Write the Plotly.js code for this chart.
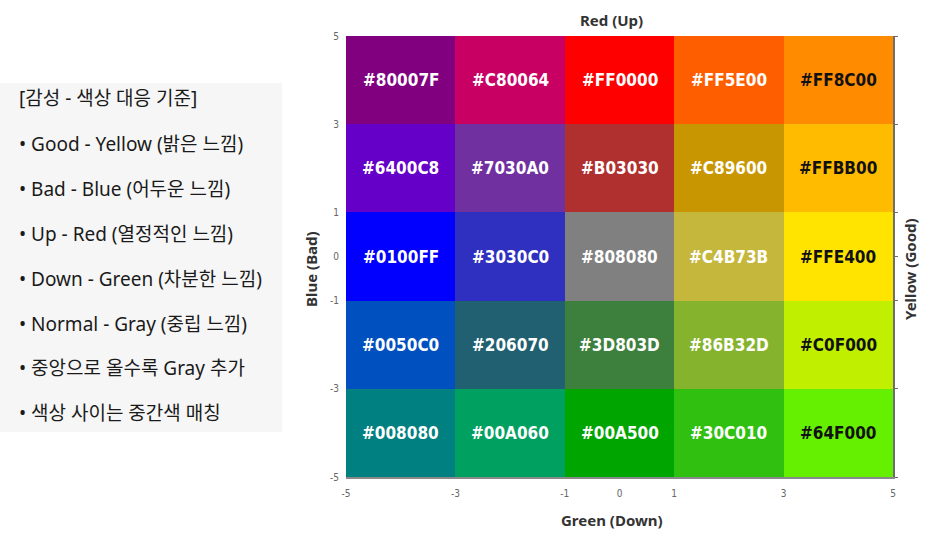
<!DOCTYPE html>
<html>
<head>
<meta charset="utf-8">
<script src="https://cdn.plot.ly/plotly-3.0.1.min.js"></script>
<style>html,body{margin:0;padding:0;background:#fff;}#chart{width:932px;height:536px;}</style>
</head>
<body>
<div id="chart"></div>
<script>
// ---- data ----
const xEdges = [-5, -3, -1, 1, 3, 5];
const yEdges = [-5, -3, -1, 1, 3, 5];
const tickVals = [-5, -3, -1, 0, 1, 3, 5];
const tickText = ["-5", "-3", "-1", "0", "1", "3", "5"];
// rows listed from bottom (y=-5..-3) to top (y=3..5)
const row1 = ["#008080", "#00A060", "#00A500", "#30C010", "#64F000"];
const row2 = ["#0050C0", "#206070", "#3D803D", "#86B32D", "#C0F000"];
const row3 = ["#0100FF", "#3030C0", "#808080", "#C4B73B", "#FFE400"];
const row4 = ["#6400C8", "#7030A0", "#B03030", "#C89600", "#FFBB00"];
const row5 = ["#80007F", "#C80064", "#FF0000", "#FF5E00", "#FF8C00"];
const darkText = ["#FF8C00", "#FFBB00", "#FFE400", "#C0F000", "#64F000"];
const xTitle = "Green (Down)";
const yTitle = "Blue (Bad)";
const topTitle = "Red (Up)";
const rightTitle = "Yellow (Good)";
const legendLines = [
  "[감성 - 색상 대응 기준]",
  "• Good - Yellow (밝은 느낌)",
  "• Bad - Blue (어두운 느낌)",
  "• Up - Red (열정적인 느낌)",
  "• Down - Green (차분한 느낌)",
  "• Normal - Gray (중립 느낌)",
  "• 중앙으로 올수록 Gray 추가",
  "• 색상 사이는 중간색 매칭"
];

// ---- build ----
const rows = [row1, row2, row3, row4, row5];
const n = rows.length * rows[0].length;
const z = [];
const colorscale = [];
let k = 0;
rows.forEach(r => {
  const zr = [];
  r.forEach(c => { zr.push(k); colorscale.push([k / (n - 1), c]); k++; });
  z.push(zr);
});

const annotations = [];
rows.forEach((r, ri) => {
  r.forEach((c, ci) => {
    annotations.push({
      x: (xEdges[ci] + xEdges[ci + 1]) / 2,
      y: (yEdges[ri] + yEdges[ri + 1]) / 2,
      xref: 'x', yref: 'y', showarrow: false,
      text: '<b>' + c + '</b>',
      font: {family: 'DejaVu Sans Condensed, DejaVu Sans', size: 17,
             color: darkText.includes(c) ? '#111111' : '#ffffff'}
    });
  });
});

const W = 547, H = 441, L = 346, T = 36;
const px = p => (p - L) / W;
const py = p => (T + H - p) / H;

const lineY = [98, 144, 189, 234, 279, 324, 368, 413];
legendLines.forEach((t, i) => {
  annotations.push({
    xref: 'paper', yref: 'paper', x: px(17), y: py(lineY[i]),
    xanchor: 'left', yanchor: 'middle', showarrow: false, text: t,
    font: {family: 'Noto Sans, Noto Sans CJK KR', size: 19, color: '#1a1a1a'}
  });
});

const titleFont = {family: 'Noto Sans', size: 15, color: '#333333'};
annotations.push({
  xref: 'paper', yref: 'paper', x: px(611), y: py(20), yanchor: 'middle',
  showarrow: false, text: '<b>' + topTitle + '</b>', font: titleFont
});
annotations.push({
  xref: 'paper', yref: 'paper', x: px(612), y: py(520), yanchor: 'middle',
  showarrow: false, text: '<b>' + xTitle + '</b>', font: titleFont
});
annotations.push({
  xref: 'paper', yref: 'paper', x: px(311), y: py(269), xanchor: 'center', yanchor: 'middle',
  textangle: -90, showarrow: false, text: '<b>' + yTitle + '</b>', font: titleFont
});
annotations.push({
  xref: 'paper', yref: 'paper', x: px(910), y: py(269), xanchor: 'center', yanchor: 'middle',
  textangle: -90, showarrow: false, text: '<b>' + rightTitle + '</b>', font: titleFont
});

const data = [
  {
    type: 'heatmap', x: xEdges, y: yEdges, z: z,
    colorscale: colorscale, zmin: 0, zmax: n - 1,
    showscale: false, hoverinfo: 'skip'
  },
  {
    type: 'scatter', x: [], y: [], xaxis: 'x', yaxis: 'y2',
    showlegend: false, hoverinfo: 'skip'
  }
];

const layout = {
  width: 932, height: 536,
  margin: {l: L, r: 932 - L - W, t: T, b: 536 - T - H, pad: 0},
  paper_bgcolor: '#ffffff', plot_bgcolor: '#ffffff',
  showlegend: false,
  xaxis: {
    range: [-5, 5], tickmode: 'array', tickvals: tickVals, ticktext: tickText,
    showgrid: false, zeroline: false, showline: true, linecolor: '#8a8a8a', linewidth: 1.5,
    ticks: '', tickfont: {family: 'DejaVu Sans Condensed, DejaVu Sans', size: 10, color: '#666666'},
    ticklabelstandoff: 6
  },
  yaxis: {
    range: [-5, 5], tickmode: 'array', tickvals: tickVals, ticktext: tickText,
    showgrid: false, zeroline: false, showline: false,
    ticks: '', tickfont: {family: 'DejaVu Sans Condensed, DejaVu Sans', size: 10, color: '#666666'},
    ticklabelstandoff: 6
  },
  yaxis2: {
    overlaying: 'y', side: 'right', range: [-5, 5],
    tickmode: 'array', tickvals: tickVals, showticklabels: false,
    showgrid: false, zeroline: false, showline: true, linecolor: '#6e6e6e', linewidth: 1.5,
    ticks: 'outside', ticklen: 3, tickcolor: '#6e6e6e'
  },
  shapes: [{
    type: 'rect', xref: 'paper', yref: 'paper', layer: 'below',
    x0: px(0), x1: px(282), y0: py(432), y1: py(83),
    fillcolor: '#f6f6f6', line: {width: 0}
  }],
  annotations: annotations
};

Plotly.newPlot('chart', data, layout, {staticPlot: true, displayModeBar: false});
</script>
</body>
</html>
